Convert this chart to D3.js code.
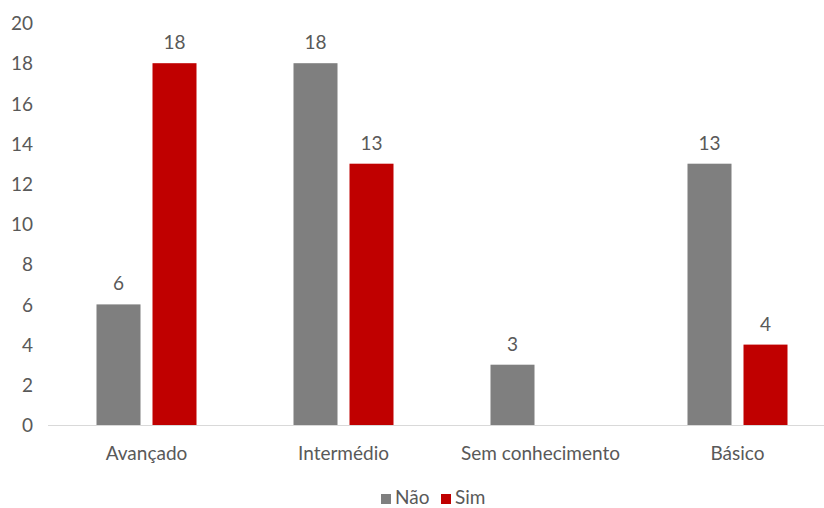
<!DOCTYPE html>
<html><head><meta charset="utf-8">
<script src="https://cdn.jsdelivr.net/npm/d3@7"></script>
<style>body{margin:0;background:#fff}svg{display:block}text{font-family:Lato,"Liberation Sans",Arial,sans-serif;fill:#595959}</style>
</head><body><svg id="c" width="824" height="508"></svg>
<script>
const categories = ["Avançado","Intermédio","Sem conhecimento","Básico"];
const seriesNames = ["Não","Sim"];
const naoValues = [6,18,3,13];
const simValues = [18,13,null,4];
const yTicks = [0,2,4,6,8,10,12,14,16,18,20];
const colors = {"Não":"#7f7f7f","Sim":"#c00000"};
const FS = 19;

const svg = d3.select("#c");
const x0 = d3.scaleBand().domain(categories).range([48,836]).padding(0);
const y = d3.scaleLinear().domain([0,20]).range([425,23]);
const x1 = d3.scaleBand().domain(seriesNames).range([x0.bandwidth()/2-50, x0.bandwidth()/2+50]).paddingInner(0.2143);

const data = categories.map((c,i)=>({cat:c, vals:[{s:"Não",v:naoValues[i]},{s:"Sim",v:simValues[i]}]}));

// y tick labels
const yAxis = d3.axisLeft(y).tickValues(yTicks).tickSize(0).tickPadding(0);
const ya = svg.append("g").attr("transform","translate(33,0)").call(yAxis);
ya.select(".domain").remove();
ya.selectAll("text").attr("font-size",FS).style("font-family",null).attr("fill","#595959").attr("dy","0.35em");

// baseline
svg.append("line").attr("x1",48).attr("x2",836).attr("y1",y(0)+0.5).attr("y2",y(0)+0.5).attr("stroke","#d9d9d9").attr("stroke-width",1);

const g = svg.selectAll(".grp").data(data).enter().append("g").attr("transform",d=>`translate(${x0(d.cat)},0)`);
g.selectAll("rect").data(d=>d.vals.filter(v=>v.v!=null)).enter().append("rect")
 .attr("x",d=>x1(d.s)).attr("width",x1.bandwidth())
 .attr("y",d=>y(d.v)).attr("height",d=>y(0)-y(d.v)).attr("fill",d=>colors[d.s]);
g.selectAll("text.lbl").data(d=>d.vals.filter(v=>v.v!=null)).enter().append("text").attr("class","lbl")
 .attr("x",d=>x1(d.s)+x1.bandwidth()/2).attr("y",d=>y(d.v)-14)
 .attr("text-anchor","middle").attr("font-size",FS).text(d=>d.v);

// x axis labels
const xa = svg.append("g").attr("transform",`translate(0,${y(0)})`).call(d3.axisBottom(x0).tickSize(0).tickPadding(0));
xa.select(".domain").remove();
xa.selectAll("text").attr("font-size",FS).style("font-family",null).attr("fill","#595959").attr("dy",0).attr("y",35);

// legend
const leg = svg.append("g");
const items = [{s:"Não",x:381},{s:"Sim",x:441}];
items.forEach(it=>{
  leg.append("rect").attr("x",it.x).attr("y",494).attr("width",10).attr("height",10).attr("fill",colors[it.s]);
  leg.append("text").attr("x",it.x+14).attr("y",504).attr("font-size",FS).text(it.s);
});
</script></body></html>
